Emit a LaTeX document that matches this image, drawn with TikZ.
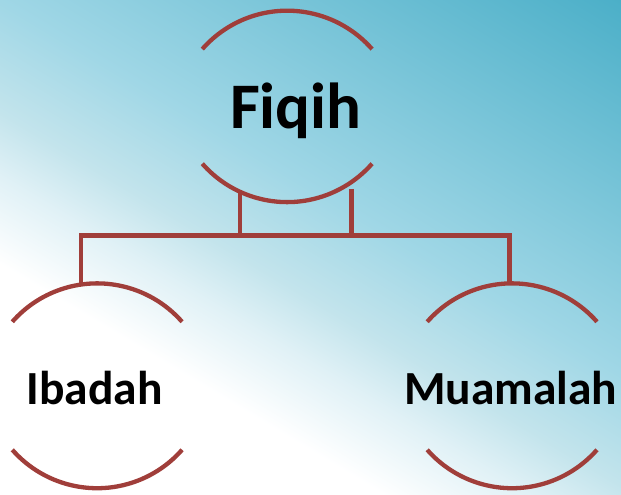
\documentclass[tikz,border=0pt]{standalone}
\usepackage{fontspec}
\setmainfont{Carlito}

\definecolor{ringred}{RGB}{160,62,58}
\definecolor{bgA}{RGB}{224,241,246}
\definecolor{bgB}{RGB}{195,228,236}
\definecolor{bgC}{RGB}{160,215,230}
\definecolor{bgD}{RGB}{75,175,200}
\definecolor{bgE}{RGB}{68,170,196}
\pgfdeclarehorizontalshading{bgsweep}{1400bp}{color(0bp)=(white); color(275bp)=(white); color(350bp)=(bgA); color(405bp)=(bgB); color(500bp)=(bgC); color(820bp)=(bgD); color(900bp)=(bgE)}

\begin{document}
\begin{tikzpicture}[x=1pt, y=1pt,
    ring/.style={draw=ringred, line width=4.3pt},
    link/.style={draw=ringred, line width=4.8pt},
    title/.style={font=\bfseries\fontsize{65}{70}\selectfont, inner sep=0pt, text height=41pt, text depth=0pt},
    subtitle/.style={font=\bfseries\fontsize{47.5}{52}\selectfont, inner sep=0pt, text height=30pt, text depth=0pt}]

    % Background
    \useasboundingbox (0,0) rectangle (621,495);
    \begin{scope}
        \clip (0,0) rectangle (621,495);
        \begin{scope}[shift={(0,260)}, rotate=59]
            \pgflowlevelsynccm
            \pgftext[left,at={\pgfpoint{-300bp}{0bp}}]{\pgfuseshading{bgsweep}}
        \end{scope}
    \end{scope}

    % Text nodes
    \node[title] (fiqih) at (295.8,387.4) {Fiqih};
    \node[subtitle] (ibadah) at (94.5,105) {Ibadah};
    \node[subtitle] (muamalah) at (510.8,105.5) {Muamalah};

    % Rings (top and bottom arcs round each node)
    \foreach \n/\dx/\dy/\g in {fiqih/-8.5/1.2/57.3, ibadah/2.8/4.2/64, muamalah/1.4/3.7/64} {
        \draw[ring] ([shift={(\dx-85,\dy+\g)}]\n.center) arc[start angle=138.7, end angle=41.3, radius=113pt];
        \draw[ring] ([shift={(\dx-85,\dy-\g)}]\n.center) arc[start angle=221.3, end angle=318.7, radius=113pt];
    }

    % Connectors
    \coordinate (bus) at (300,259.2);
    \coordinate (legL) at (240,303.7);
    \coordinate (legR) at (351.7,306);
    \coordinate (dropL) at (81,210.5);
    \coordinate (dropR) at (509.3,211.6);

    \draw[link] (legL) -- (legL |- bus);
    \draw[link] (legR) -- (legR |- bus);
    \draw[link] (dropL) |- (bus) -| (dropR);
\end{tikzpicture}
\end{document}
